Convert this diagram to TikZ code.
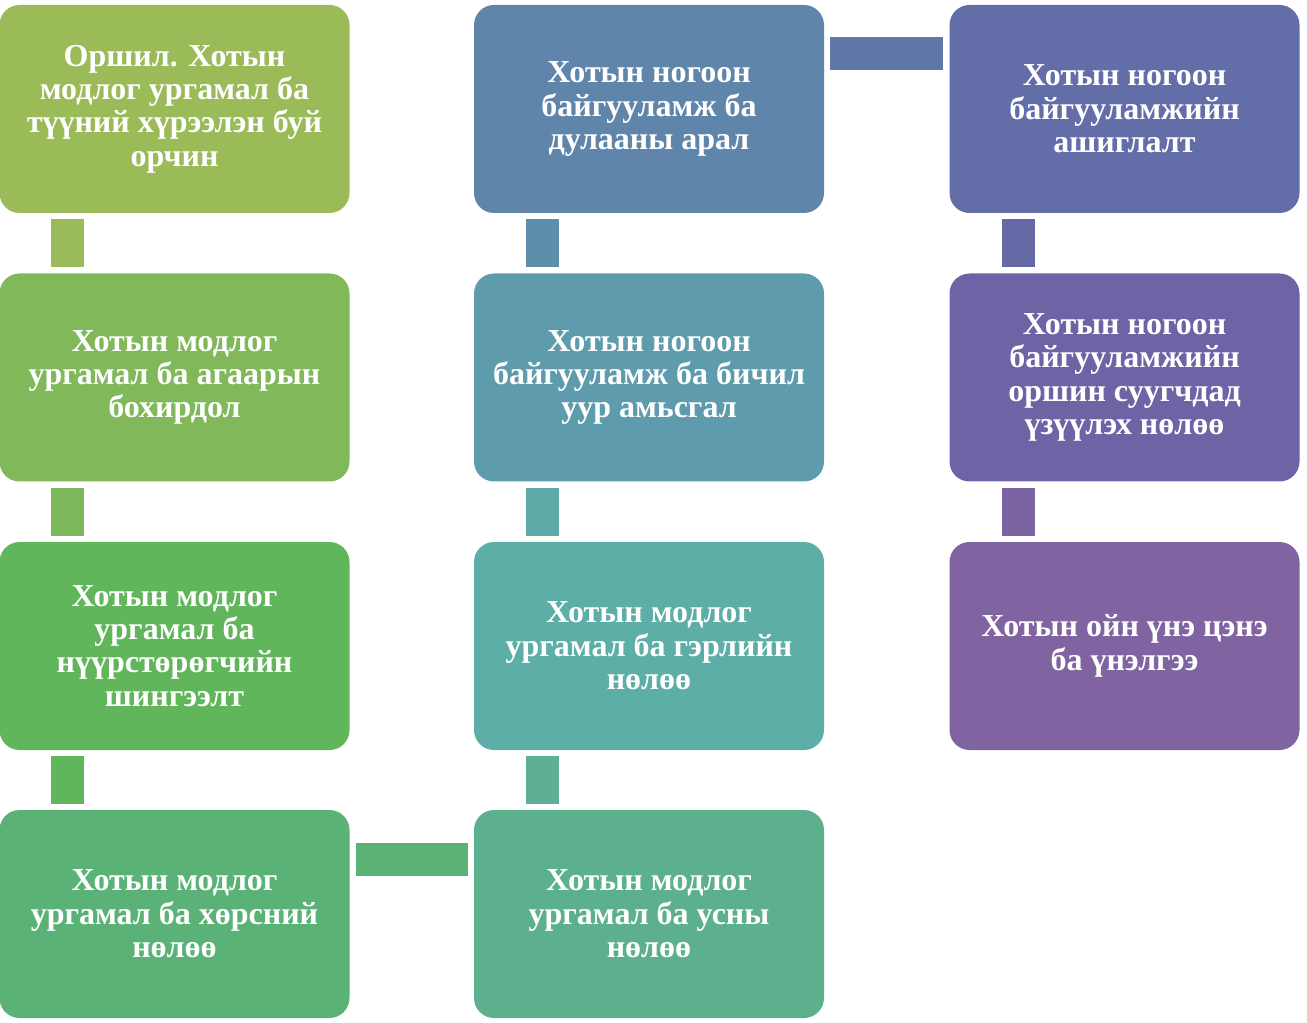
\documentclass[tikz,border=0pt]{standalone}
\usepackage{fontspec}
\setmainfont{Liberation Serif}
\definecolor{olive}{HTML}{9BBB59}
\definecolor{leaf}{HTML}{80B85A}
\definecolor{grass}{HTML}{61B55B}
\definecolor{moss}{HTML}{5BB277}
\definecolor{mint}{HTML}{5DB08E}
\definecolor{teal}{HTML}{5DAEA7}
\definecolor{sea}{HTML}{5E9CAD}
\definecolor{steel}{HTML}{6085AA}
\definecolor{indigo}{HTML}{636EA9}
\definecolor{violet}{HTML}{6C64A5}
\definecolor{plum}{HTML}{8064A1}
\tikzset{
    topic/.style={rounded corners=15pt, minimum width=262.5pt, minimum height=156pt,
        inner sep=0pt, align=center, text=white,
        font=\bfseries\fontsize{24}{25}\selectfont},
    link/.style={line width=24.75pt, shorten <=4.5pt, shorten >=4.5pt},
}
\begin{document}
\begin{tikzpicture}[x=0.75pt, y=-0.75pt]
        \useasboundingbox (0, 0) rectangle (1307, 1023);
        % first column
        \node[topic, fill=olive] (intro) at (174.5, 109) {Оршил. Хотын\\модлог ургамал ба\\түүний хүрээлэн буй\\орчин};
        \node[topic, fill=leaf] (air) at (174.5, 377.5) {Хотын модлог\\ургамал ба агаарын\\бохирдол};
        \node[topic, fill=grass] (carbon) at (174.5, 646) {Хотын модлог\\ургамал ба\\нүүрстөрөгчийн\\шингээлт};
        \node[topic, fill=moss] (soil) at (174.5, 914) {Хотын модлог\\ургамал ба хөрсний\\нөлөө};
        % second column
        \node[topic, fill=steel] (heat) at (649, 109) {Хотын ногоон\\байгууламж ба\\дулааны арал};
        \node[topic, fill=sea] (climate) at (649, 377.5) {Хотын ногоон\\байгууламж ба бичил\\уур амьсгал};
        \node[topic, fill=teal] (light) at (649, 646) {Хотын модлог\\ургамал ба гэрлийн\\нөлөө};
        \node[topic, fill=mint] (water) at (649, 914) {Хотын модлог\\ургамал ба усны\\нөлөө};
        % third column
        \node[topic, fill=indigo] (use) at (1124.5, 109) {Хотын ногоон\\байгууламжийн\\ашиглалт};
        \node[topic, fill=violet] (people) at (1124.5, 377.5) {Хотын ногоон\\байгууламжийн\\оршин суугчдад\\үзүүлэх нөлөө};
        \node[topic, fill=plum] (value) at (1124.5, 646) {Хотын ойн үнэ цэнэ\\ба үнэлгээ};
        % links
        \draw[link, draw=olive!95!leaf] ([xshift=-80.25pt]intro.south) -- ([xshift=-80.25pt]air.north);
        \draw[link, draw=leaf!90!grass] ([xshift=-80.25pt]air.south) -- ([xshift=-80.25pt]carbon.north);
        \draw[link, draw=grass] ([xshift=-80.25pt]carbon.south) -- ([xshift=-80.25pt]soil.north);
        \draw[link, draw=moss] ([yshift=41.25pt]soil.east) -- ([yshift=41.25pt]water.west);
        \draw[link, draw=mint!70!teal] ([xshift=-80pt]water.north) -- ([xshift=-80pt]light.south);
        \draw[link, draw=teal!80!sea] ([xshift=-80pt]light.north) -- ([xshift=-80pt]climate.south);
        \draw[link, draw=sea!40!steel] ([xshift=-80pt]climate.north) -- ([xshift=-80pt]heat.south);
        \draw[link, draw=steel!40!indigo] ([yshift=41.25pt]heat.east) -- ([yshift=41.25pt]use.west);
        \draw[link, draw=indigo!50!violet] ([xshift=-79.5pt]use.south) -- ([xshift=-79.5pt]people.north);
        \draw[link, draw=violet!20!plum] ([xshift=-79.5pt]people.south) -- ([xshift=-79.5pt]value.north);
    \end{tikzpicture}
\end{document}
